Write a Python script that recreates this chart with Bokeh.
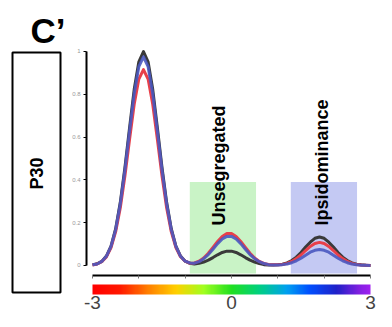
from math import pi
from bokeh.plotting import figure
from bokeh.models import (Range1d, LinearAxis, FixedTicker, NumeralTickFormatter, ColorBar,
                          LinearColorMapper, Label, BoxAnnotation)
from bokeh.embed import file_html
from bokeh.resources import INLINE

# ---------------- data ----------------
x_vals = [round(-3 + 0.1 * i, 1) for i in range(61)]

black_vals = [0.003, 0.008, 0.019, 0.044, 0.091, 0.172, 0.295, 0.458, 0.644, 0.823, 0.952, 1.000, 0.952, 0.823, 0.644, 0.458, 0.295, 0.172, 0.091,
              0.044, 0.020, 0.010, 0.007, 0.010,
              0.016, 0.025, 0.037, 0.050, 0.061, 0.067, 0.067, 0.061, 0.050, 0.037, 0.025, 0.016, 0.009,
              0.004, 0.002, 0.002, 0.003, 0.006,
              0.012, 0.023, 0.039, 0.061, 0.086, 0.109, 0.127, 0.133, 0.127, 0.109, 0.086, 0.061, 0.039, 0.023, 0.012, 0.006, 0.003, 0.001, 0.000]
red_vals = [0.002, 0.007, 0.018, 0.040, 0.084, 0.158, 0.270, 0.419, 0.590, 0.753, 0.871, 0.915, 0.871, 0.753, 0.590, 0.419, 0.270, 0.158, 0.084,
            0.041, 0.020, 0.011, 0.012, 0.020,
            0.035, 0.057, 0.084, 0.112, 0.136, 0.150, 0.150, 0.136, 0.112, 0.084, 0.057, 0.035, 0.019,
            0.010, 0.005, 0.003, 0.003, 0.005,
            0.010, 0.019, 0.032, 0.049, 0.070, 0.089, 0.103, 0.108, 0.103, 0.089, 0.070, 0.049, 0.032, 0.019, 0.010, 0.005, 0.002, 0.001, 0.000]
blue_vals = [0.003, 0.007, 0.019, 0.043, 0.089, 0.168, 0.288, 0.446, 0.628, 0.802, 0.929, 0.975, 0.929, 0.802, 0.628, 0.446, 0.288, 0.168, 0.089,
             0.043, 0.020, 0.012, 0.011, 0.018,
             0.032, 0.051, 0.076, 0.102, 0.124, 0.136, 0.136, 0.124, 0.102, 0.076, 0.051, 0.032, 0.018,
             0.009, 0.004, 0.002, 0.002, 0.004,
             0.007, 0.013, 0.022, 0.034, 0.048, 0.062, 0.071, 0.075, 0.071, 0.062, 0.048, 0.034, 0.022, 0.013, 0.007, 0.003, 0.001, 0.001, 0.000]

region_names = ["Unsegregated", "Ipsidominance"]
region_left = [-0.90, 1.28]
region_right = [0.53, 2.71]
region_top = [0.39, 0.39]
region_bottom = [-0.037, -0.037]
region_colors = ["#c9f3c6", "#c4c9f3"]
region_label_x = [-0.26, 1.96]
region_label_y = [0.187, 0.187]

y_ticks = [0, 0.2, 0.4, 0.6, 0.8, 1.0]
x_ticks = [-3, -2, -1, 0, 1, 2, 3]
cbar_ticks = [-3, 0, 3]
cbar_labels = ["-3", "0", "3"]

title_text = "C\u2019"
panel_text = "P30"

# ---------------- layout helpers ----------------
W, H = 376, 311
XR = (-4.986, 3.130)
YR = (-0.2150, 1.2383)


def dx(c):  # canvas px -> data x
    return XR[0] + c * (XR[1] - XR[0]) / W


def dy(c):  # canvas px (from top) -> data y
    return YR[1] - c * (YR[1] - YR[0]) / H


p = figure(width=W, height=H, x_range=Range1d(*XR), y_range=Range1d(*YR),
           x_axis_location=None, y_axis_location=None, toolbar_location=None,
           output_backend="svg", min_border=0, outline_line_color=None)
p.grid.visible = False
p.background_fill_color = "white"
p.border_fill_color = "white"

# highlight regions
p.quad(left=region_left, right=region_right, top=region_top, bottom=region_bottom,
       fill_color=region_colors, line_color=None)

# curves
p.line(x_vals, black_vals, line_color="#3a3a3a", line_width=3, line_join="round")
p.line(x_vals, red_vals, line_color="#e8404a", line_width=3, line_join="round")
p.line(x_vals, blue_vals, line_color="#4a58c0", line_width=3, line_alpha=0.9, line_join="round")

# region labels
for name, lx, ly in zip(region_names, region_label_x, region_label_y):
    p.add_layout(Label(x=lx, y=ly, text=name, angle=pi / 2, text_align="left", text_baseline="middle",
                       text_font="Liberation Sans", text_font_style="bold", text_font_size="18px",
                       text_color="black"))

# axes
yax = LinearAxis(fixed_location=-3.13, bounds=(0, 1), ticker=FixedTicker(ticks=y_ticks),
                 formatter=NumeralTickFormatter(format="0.[0]"))
yax.axis_line_width = 2
yax.major_tick_in = 0
yax.major_tick_out = 3
yax.minor_tick_line_color = None
yax.major_label_text_font_size = "6px"
yax.major_label_text_color = "#999999"
yax.major_label_standoff = 3
p.add_layout(yax, "left")

xax = LinearAxis(fixed_location=-0.0467, bounds=(-3, 3), ticker=FixedTicker(ticks=x_ticks),
                 major_label_overrides={t: "" for t in x_ticks})
xax.axis_line_width = 2
xax.major_tick_in = 0
xax.major_tick_out = 3
xax.major_tick_line_color = "#777777"
xax.minor_tick_line_color = None
p.add_layout(xax, "below")

# rainbow colour bar
stops = [(0.00, (255, 0, 0)), (0.10, (255, 26, 0)), (0.20, (255, 128, 0)), (0.30, (255, 208, 0)),
         (0.40, (160, 255, 32)), (0.50, (32, 224, 32)), (0.60, (0, 208, 128)), (0.70, (0, 160, 240)),
         (0.78, (0, 80, 255)), (0.88, (32, 32, 200)), (0.96, (128, 32, 224)), (1.00, (160, 32, 240))]
palette = []
for i in range(256):
    f = i / 255
    for (f0, c0), (f1, c1) in zip(stops[:-1], stops[1:]):
        if f0 <= f <= f1:
            t = (f - f0) / (f1 - f0)
            rgb = tuple(int(round(a + (b - a) * t)) for a, b in zip(c0, c1))
            palette.append("#%02x%02x%02x" % rgb)
            break
mapper = LinearColorMapper(palette=palette, low=-3, high=3)
cb = ColorBar(color_mapper=mapper, orientation="horizontal", location=(92, 0), width=278, height=10,
              padding=0, margin=0, ticker=FixedTicker(ticks=cbar_ticks),
              major_label_overrides=dict(zip(cbar_ticks, cbar_labels)),
              major_label_text_font_size="19px", major_label_text_font="Liberation Sans",
              major_tick_line_color=None, minor_tick_line_color=None, bar_line_color=None,
              border_line_color=None, background_fill_alpha=0, label_standoff=1)
p.add_layout(cb, "center")

# left panel box and title
p.add_layout(BoxAnnotation(left=dx(12), right=dx(60), top=dy(52), bottom=dy(292),
                           fill_alpha=0, line_color="black", line_alpha=1, line_width=2))
p.add_layout(Label(x=dx(36), y=dy(173), text=panel_text, angle=pi / 2, text_align="center",
                   text_baseline="middle", text_font="Liberation Sans", text_font_style="bold",
                   text_font_size="18px", text_color="black"))
p.add_layout(Label(x=dx(30), y=dy(30), text=title_text, text_align="left", text_baseline="alphabetic",
                   text_font="Liberation Sans", text_font_style="bold", text_font_size="35px",
                   text_color="black"))

open("out.html", "w").write(file_html(p, INLINE))
